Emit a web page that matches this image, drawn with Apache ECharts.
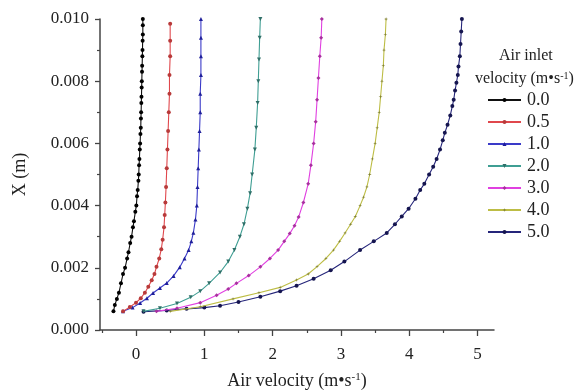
<!DOCTYPE html>
<html>
<head>
<meta charset="utf-8">
<script src="https://cdn.jsdelivr.net/npm/echarts@6/dist/echarts.min.js"></script>
<style>html,body{margin:0;padding:0;background:#fff}#c{width:581px;height:392px}</style>
</head>
<body>
<div id="c"></div>
<script>
// Series names (air inlet velocity, m/s)
const names = ['0.0', '0.5', '1.0', '2.0', '3.0', '4.0', '5.0'];
// Each point: [air velocity (m/s), X (m)]
const s00 = [[-0.33,0.0006],[-0.31,0.0008],[-0.28,0.0010],[-0.25,0.0012],[-0.22,0.0015],[-0.19,0.0018],[-0.16,0.0020],[-0.13,0.0023],[-0.11,0.0025],[-0.085,0.0028],[-0.065,0.0030],[-0.045,0.0033],[-0.03,0.0035],[-0.01,0.0038],[0.005,0.0040],[0.015,0.0043],[0.025,0.0045],[0.035,0.0048],[0.04,0.0050],[0.045,0.0053],[0.05,0.0055],[0.055,0.0058],[0.06,0.0060],[0.065,0.0063],[0.07,0.0065],[0.072,0.0068],[0.075,0.0070],[0.078,0.0073],[0.08,0.0075],[0.083,0.0078],[0.085,0.0080],[0.088,0.0083],[0.09,0.0085],[0.093,0.0088],[0.095,0.0090],[0.097,0.0093],[0.10,0.0095],[0.10,0.0098],[0.10,0.0100]];
const s05 = [[-0.19,0.0006],[-0.09,0.00074],[0.0,0.00088],[0.07,0.00102],[0.13,0.0012],[0.18,0.00139],[0.23,0.0016],[0.27,0.0018],[0.30,0.00203],[0.34,0.0023],[0.37,0.0026],[0.39,0.0029],[0.41,0.0033],[0.42,0.0037],[0.43,0.0041],[0.44,0.0046],[0.45,0.0052],[0.46,0.0058],[0.47,0.0064],[0.48,0.0070],[0.49,0.0076],[0.49,0.0082],[0.50,0.0088],[0.50,0.0093],[0.50,0.00985]];
const s10 = [[-0.19,0.0006],[-0.05,0.00072],[0.06,0.00087],[0.16,0.00102],[0.25,0.00119],[0.35,0.00135],[0.45,0.00151],[0.55,0.00174],[0.64,0.00202],[0.71,0.0023],[0.77,0.00257],[0.81,0.00285],[0.84,0.00313],[0.87,0.00355],[0.89,0.0040],[0.90,0.0046],[0.91,0.0052],[0.92,0.0058],[0.93,0.0064],[0.94,0.0070],[0.94,0.0076],[0.95,0.0082],[0.95,0.0088],[0.95,0.0094],[0.95,0.0100]];
const s20 = [[0.11,0.0006],[0.35,0.0007],[0.60,0.00085],[0.80,0.00105],[0.94,0.00125],[1.07,0.0015],[1.23,0.00185],[1.35,0.0022],[1.44,0.00257],[1.52,0.0030],[1.58,0.0034],[1.63,0.0039],[1.67,0.0044],[1.70,0.0050],[1.74,0.0058],[1.76,0.0065],[1.78,0.0073],[1.79,0.0080],[1.80,0.0087],[1.81,0.0094],[1.82,0.0100]];
const s30 = [[0.30,0.0006],[0.60,0.0007],[0.94,0.00088],[1.18,0.00112],[1.35,0.00132],[1.47,0.0015],[1.65,0.00175],[1.82,0.00203],[1.96,0.0023],[2.08,0.00257],[2.17,0.00285],[2.25,0.0031],[2.32,0.00335],[2.38,0.00363],[2.45,0.0041],[2.52,0.0047],[2.56,0.0053],[2.60,0.0060],[2.63,0.0067],[2.65,0.0074],[2.67,0.0081],[2.69,0.0088],[2.71,0.0094],[2.72,0.0100]];
const s40 = [[0.50,0.0006],[0.94,0.00075],[1.42,0.001],[1.80,0.0012],[2.11,0.00137],[2.35,0.00161],[2.52,0.0018],[2.65,0.00204],[2.78,0.0023],[2.89,0.00257],[2.98,0.00285],[3.06,0.00312],[3.14,0.0034],[3.21,0.00365],[3.28,0.004],[3.33,0.00427],[3.38,0.0046],[3.42,0.0050],[3.46,0.0055],[3.50,0.0060],[3.53,0.0065],[3.56,0.0070],[3.58,0.0075],[3.60,0.0080],[3.62,0.0085],[3.63,0.0090],[3.65,0.0095],[3.66,0.0100]];
const s50 = [[0.11,0.00059],[0.45,0.00063],[0.74,0.00068],[1.00,0.00072],[1.23,0.00078],[1.50,0.0009],[1.82,0.00107],[2.11,0.00125],[2.35,0.00142],[2.60,0.00165],[2.85,0.00192],[3.05,0.0022],[3.28,0.00257],[3.48,0.00285],[3.67,0.00312],[3.79,0.0034],[3.89,0.00365],[3.99,0.0039],[4.09,0.00422],[4.16,0.0045],[4.22,0.0047],[4.29,0.005],[4.35,0.00525],[4.40,0.0055],[4.45,0.0058],[4.49,0.0061],[4.52,0.00634],[4.56,0.0066],[4.60,0.0069],[4.63,0.0072],[4.65,0.0074],[4.67,0.0077],[4.69,0.00795],[4.71,0.0082],[4.72,0.00847],[4.74,0.0088],[4.75,0.0092],[4.76,0.0096],[4.77,0.0100]];
const xTicks = [0, 1, 2, 3, 4, 5];
const xMinorTicks = [-0.5, 0.5, 1.5, 2.5, 3.5, 4.5];

const allData = [s00, s05, s10, s20, s30, s40, s50];
const lineColors = ['#111111', '#e0474c', '#3a3ac8', '#3f9e93', '#e040e0', '#bdbd45', '#25257a'];
const markColors = ['#000000', '#b83a3a', '#1f1f9a', '#2f6f68', '#a8309e', '#7f7f30', '#15154f'];
const symbols = ['circle', 'circle', 'triangle', 'path://M0,0 L10,0 L5,9 Z', 'diamond', 'path://M5,0 L6,4 L10,5 L6,6 L5,10 L4,6 L0,5 L4,4 Z', 'circle'];

const serif = '"Liberation Serif", "DejaVu Serif", serif';
const chart = echarts.init(document.getElementById('c'), null, {renderer: 'canvas'});

const series = allData.map((d, i) => ({
  name: names[i],
  type: 'line',
  data: d,
  symbol: symbols[i],
  symbolSize: 4,
  showAllSymbol: true,
  lineStyle: {color: lineColors[i], width: 1.1},
  itemStyle: {color: markColors[i], borderWidth: 0},
  emphasis: {disabled: true},
  animation: false,
  z: 10 - i
}));

const axisColor = '#444';
chart.setOption({
  animation: false,
  backgroundColor: '#fff',
  grid: {left: 100, right: 87, top: 19, bottom: 62, containLabel: false, outerBoundsMode: 'none'},
  xAxis: [{
    type: 'value', min: -0.527, max: 5.24,
    name: 'Air velocity (m•s{sup|-1})', nameLocation: 'middle', nameGap: 42,
    nameTextStyle: {fontFamily: serif, fontSize: 18, color: '#222', rich: {sup: {fontSize: 11, verticalAlign: 'top', fontFamily: serif, color: '#222', padding: [0,0,8,0]}}},
    axisLine: {show: true, onZero: false, lineStyle: {color: axisColor, width: 1.5}},
    axisTick: {show: true, inside: false, length: 6, customValues: xTicks, lineStyle: {color: axisColor, width: 1.3}},
    axisLabel: {customValues: xTicks, fontFamily: serif, fontSize: 17, color: '#222', margin: 16},
    splitLine: {show: false}
  }, {
    type: 'value', min: -0.527, max: 5.24, position: 'bottom', gridIndex: 0,
    axisLine: {show: false, onZero: false},
    axisTick: {show: true, length: 3, customValues: xMinorTicks, lineStyle: {color: axisColor, width: 1.2}},
    axisLabel: {show: false},
    splitLine: {show: false}
  }],
  yAxis: {
    type: 'value', min: 0, max: 0.010, interval: 0.002,
    name: 'X (m)', nameLocation: 'middle', nameGap: 71, nameRotate: 90,
    nameTextStyle: {fontFamily: serif, fontSize: 18, color: '#222'},
    axisLine: {show: true, onZero: false, lineStyle: {color: axisColor, width: 1.5}},
    axisTick: {show: true, length: 5, lineStyle: {color: axisColor, width: 1.3}},
    minorTick: {show: true, splitNumber: 2, length: 3, lineStyle: {color: axisColor, width: 1.2}},
    axisLabel: {fontFamily: serif, fontSize: 17, color: '#222', margin: 11, formatter: v => v.toFixed(3)},
    splitLine: {show: false}
  },
  legend: {
    orient: 'vertical', left: 487, top: 91, padding: 0,
    itemWidth: 33, itemHeight: 5, itemGap: 4,
    textStyle: {fontFamily: serif, fontSize: 18, lineHeight: 18, color: '#222', padding: [0,0,0,1]},
    data: names
  },
  graphic: [
    {type: 'text', left: 499, top: 48, style: {text: 'Air inlet', font: '16px ' + serif, fill: '#222'}},
    {type: 'text', left: 475, top: 71, style: {text: 'velocity (m•s{sup|-1})', font: '16px ' + serif, fill: '#222',
      rich: {sup: {fontSize: 10, fontFamily: serif, fill: '#222', verticalAlign: 'top', padding: [0,0,6,0]}}}}
  ],
  series: series
});
</script>
</body>
</html>
